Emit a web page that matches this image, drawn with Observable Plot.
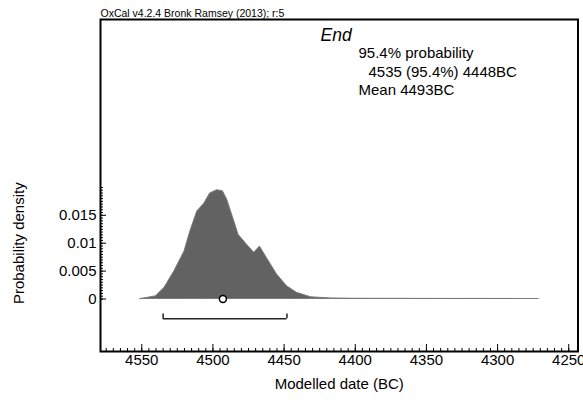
<!DOCTYPE html>
<html><head><meta charset="utf-8">
<script src="https://cdn.jsdelivr.net/npm/d3@7"></script>
<script src="https://cdn.jsdelivr.net/npm/@observablehq/plot@0.6"></script>
<style>
body{margin:0;background:#fff}
#chart svg{font-family:"Liberation Sans",Arial,sans-serif;background:#fff}
</style>
</head><body><div id="chart"></div>
<script>
// Posterior density of "End" (years BC)
const years   = [4551, 4546, 4540, 4534, 4527, 4520, 4516, 4511, 4506, 4502, 4497, 4493, 4490, 4485, 4482, 4478, 4475, 4471, 4467, 4462, 4455, 4448, 4441, 4431, 4417, 4400, 4350, 4300, 4271];
const density = [0, 0.0002, 0.0005, 0.002, 0.005, 0.0085, 0.012, 0.0157, 0.0171, 0.0189, 0.0195, 0.0193, 0.0178, 0.0139, 0.0115, 0.0103, 0.0094, 0.0083, 0.0094, 0.0073, 0.0044, 0.0023, 0.0011, 0.0003, 0.0001, 0.00004, 0.00002, 0.00001, 0];
const rangeFrom = 4535, rangeTo = 4448, meanYear = 4493;
const xTickValues = [4550, 4500, 4450, 4400, 4350, 4300, 4250];
const xMinorValues = d3.range(4575, 4249, -5);
const yTickValues = [0, 0.005, 0.01, 0.015];
const yTickLabels = ["0", "0.005", "0.01", "0.015"];
const yMinorValues = d3.range(0, 0.02001, 0.0005);
const headerText = "OxCal v4.2.4 Bronk Ramsey (2013); r:5";
const titleText = "End";
const infoLines = ["95.4% probability", "4535 (95.4%) 4448BC", "Mean 4493BC"];
const xLabel = "Modelled date (BC)";
const yLabel = "Probability density";

const data = years.map((y, i) => ({year: y, p: density[i]}));

const W = 583, H = 400;
const mL = 100, mR = 5.5, mT = 19, mB = 49;
const xDomain = [4579, 4243.5];
const yDomain = [-0.00941, 0.0501];
const xs = d3.scaleLinear().domain(xDomain).range([mL, W - mR]);
const ys = d3.scaleLinear().domain(yDomain).range([H - mB, mT]);
// helpers to express pixel lengths in data units
const dyUnits = px => ys.invert(H - mB - px) - yDomain[0];
const dxUnits = px => xDomain[0] - xs.invert(mL + px);

const bracketY = ys.invert(318.3);
const bracketTop = ys.invert(313.5);
// vertical centre of the y label, as offset from the frame middle
const yLabelShift = ys(0.01) - (mT + (H - mB)) / 2;

const fontSize = 15;
const chart = Plot.plot({
  width: W, height: H,
  marginLeft: mL, marginRight: mR, marginTop: mT, marginBottom: mB,
  x: {domain: xDomain, axis: null},
  y: {domain: yDomain, axis: null},
  style: {fontFamily: '"Liberation Sans", Arial, sans-serif', fontSize: fontSize + "px", overflow: "visible"},
  marks: [
    Plot.areaY(data, {x: "year", y: "p", fill: "#626262", stroke: "#7a7a7a", strokeWidth: 1, curve: "linear"}),
    // range bracket
    Plot.ruleY([bracketY], {x1: rangeFrom, x2: rangeTo, stroke: "#222", strokeWidth: 1.5}),
    Plot.ruleX([rangeFrom, rangeTo], {x: d => d, y1: bracketY, y2: bracketTop, stroke: "#222", strokeWidth: 1.5}),
    // mean
    Plot.dot([meanYear], {x: d => d, y: 0, r: 3.5, fill: "white", stroke: "black", strokeWidth: 1.5}),
    // x ticks (inward)
    Plot.ruleX(xMinorValues, {x: d => d, y1: yDomain[0], y2: yDomain[0] + dyUnits(3), stroke: "black", strokeWidth: 1}),
    Plot.ruleX(xTickValues, {x: d => d, y1: yDomain[0], y2: yDomain[0] + dyUnits(7), stroke: "black", strokeWidth: 1}),
    Plot.text(xTickValues, {x: d => d, frameAnchor: "bottom", text: d => String(d), lineAnchor: "top", dy: 2.5, fontSize: fontSize, fill: "black"}),
    // y ticks (inward)
    Plot.ruleY(yMinorValues, {y: d => d, x1: xDomain[0], x2: xDomain[0] - dxUnits(3), stroke: "black", strokeWidth: 1}),
    Plot.ruleY(yTickValues, {y: d => d, x1: xDomain[0], x2: xDomain[0] - dxUnits(6), stroke: "black", strokeWidth: 1}),
    Plot.text(yTickValues, {y: d => d, frameAnchor: "left", text: (d, i) => yTickLabels[i], textAnchor: "end", dx: -4, fontSize: fontSize, fill: "black"}),
    // axis labels
    Plot.text([xLabel], {frameAnchor: "bottom", text: d => d, dy: 37, lineAnchor: "bottom", fontSize: fontSize, fill: "black"}),
    Plot.text([yLabel], {frameAnchor: "left", text: d => d, textAnchor: "middle", lineAnchor: "middle", dx: -81, dy: yLabelShift, rotate: -90, fontSize: fontSize, fill: "black"}),
    // header and annotation
    Plot.text([headerText], {frameAnchor: "top-left", text: d => d, dy: -3, lineAnchor: "bottom", textAnchor: "start", fontSize: 10.5, fill: "black"}),
    Plot.text([titleText], {frameAnchor: "top-left", text: d => d, dx: 220, dy: 21, lineAnchor: "bottom", textAnchor: "start", fontSize: 17.5, fontStyle: "italic", fill: "black"}),
    Plot.text([infoLines[0]], {frameAnchor: "top-left", text: d => d, dx: 258, dy: 38, lineAnchor: "bottom", textAnchor: "start", fontSize: fontSize, fill: "black"}),
    Plot.text([infoLines[1]], {frameAnchor: "top-left", text: d => d, dx: 268, dy: 57.5, lineAnchor: "bottom", textAnchor: "start", fontSize: fontSize, fill: "black"}),
    Plot.text([infoLines[2]], {frameAnchor: "top-left", text: d => d, dx: 258, dy: 75, lineAnchor: "bottom", textAnchor: "start", fontSize: fontSize, fill: "black"}),
    Plot.frame({stroke: "black", strokeWidth: 2})
  ]
});
document.getElementById("chart").appendChild(chart);
</script>
</body></html>
